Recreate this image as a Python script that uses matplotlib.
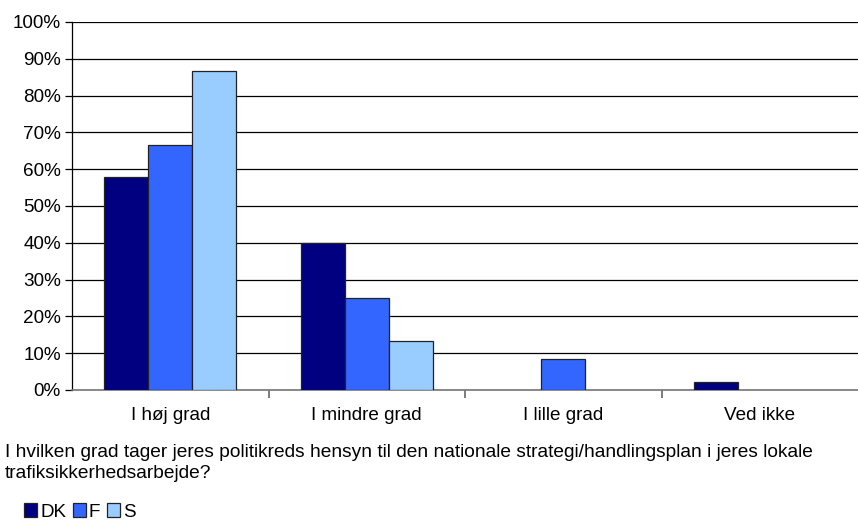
import matplotlib.pyplot as plt
import numpy as np

plt.rcParams['font.family'] = ['Liberation Sans', 'DejaVu Sans']

# Data
categories = ['I høj grad', 'I mindre grad', 'I lille grad', 'Ved ikke']
series = ['DK', 'F', 'S']
DK = [58.0, 40.0, 0.0, 2.1]
F = [66.7, 25.0, 8.3, 0.0]
S = [86.7, 13.3, 0.0, 0.0]
colors = ['#000080', '#3366FF', '#99CCFF']
question = ('I hvilken grad tager jeres politikreds hensyn til den nationale strategi/handlingsplan i jeres lokale\n'
            'trafiksikkerhedsarbejde?')

fs = 13.6
fig = plt.figure(figsize=(8.58, 5.22), dpi=100)
ax = fig.add_axes([72 / 858, 1 - 390 / 522, 1 - 72 / 858, 368 / 522])

x = np.arange(len(categories))
width = 0.224
for i, (vals, name) in enumerate(zip([DK, F, S], series)):
    lw = [0.9 if v > 0 else 0 for v in vals]
    ax.bar(x + (i - 1) * width, vals, width, color=colors[i], edgecolor='#222222',
           linewidth=lw, label=name, zorder=3)

ax.set_xlim(-0.5, len(categories) - 0.5)
ax.set_ylim(0, 100)
ax.set_yticks(np.arange(0, 101, 10))
ax.set_yticklabels([f'{v}%' for v in range(0, 101, 10)], fontsize=fs)
ax.yaxis.grid(True, color='black', linewidth=0.9, zorder=0)

ax.set_xticks(x)
ax.set_xticklabels(categories, fontsize=fs)
ax.tick_params(axis='x', length=0, pad=12)
ax.set_xticks(np.arange(0.5, len(categories) - 0.5, 1), minor=True)
ax.tick_params(axis='x', which='minor', length=6, color='#666666', width=1.2)
ax.tick_params(axis='y', length=5, width=0.9, pad=3)

ax.spines['top'].set_visible(False)
ax.spines['right'].set_visible(False)
ax.spines['bottom'].set_color('#777777')
ax.spines['bottom'].set_linewidth(1.2)
ax.spines['left'].set_linewidth(0.9)

fig.text(5 / 858, 1 - 463 / 522, question, fontsize=13.8, va='center', linespacing=1.3)

handles, labels = ax.get_legend_handles_labels()
fig.legend(handles, labels, loc='center left', bbox_to_anchor=(24 / 858, 1 - 512 / 522), ncol=3,
           frameon=False, fontsize=13.6, handlelength=0.7, handleheight=0.7,
           handletextpad=0.15, columnspacing=0.35, borderaxespad=0, borderpad=0)

fig.savefig('out.png', dpi=100)
